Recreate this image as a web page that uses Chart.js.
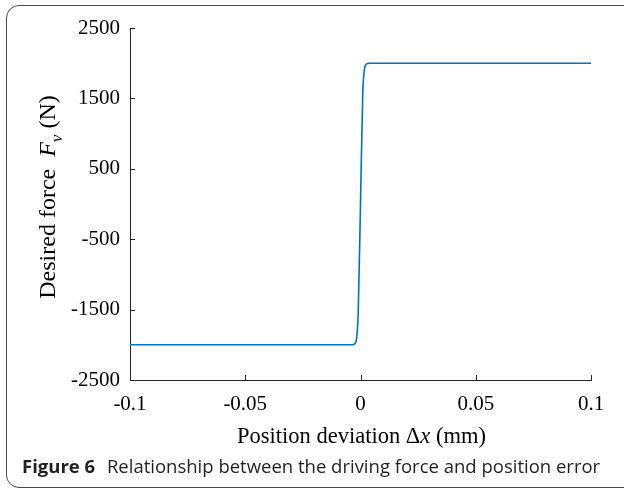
<!DOCTYPE html>
<html>
<head>
<meta charset="utf-8">
<script src="https://cdn.jsdelivr.net/npm/chart.js@4.4.1/dist/chart.umd.min.js"></script>
<style>
  html, body { margin: 0; padding: 0; background: #fff; overflow: hidden; }
  #wrap { position: relative; width: 624px; height: 491px; }
  #frame {
    position: absolute; left: 6px; top: 5px; width: 640px; height: 483px;
    border: 1.3px solid #4a4a4a; border-radius: 13px; box-sizing: border-box;
  }
  #chart { position: absolute; left: 0; top: 0; }
  #caption {
    position: absolute; left: 22px; top: 453px; white-space: nowrap;
    font-family: "Open Sans", "Noto Sans", sans-serif; font-size: 18.5px; color: #231f20;
  }
  #caption b { font-weight: 700; margin-right: 7px; }
</style>
</head>
<body>
<div id="wrap">
  <div id="frame"></div>
  <canvas id="chart" width="624" height="491"></canvas>
  <div id="caption"><b>Figure 6</b> Relationship between the driving force and position error</div>
</div>
<script>
// position deviation (mm) and desired force (N)
const deviation = [-0.1, -0.05, -0.004, -0.003, -0.002, -0.0015, -0.001, 0, 0.001, 0.0015, 0.002, 0.003, 0.004, 0.05, 0.1];
const force = [-2000, -2000, -2000, -1995, -1960, -1850, -1550, 0, 1600, 1850, 1960, 1995, 2000, 2000, 2000];
const xTicks = [-0.1, -0.05, 0, 0.05, 0.1];
const yTicks = [-2500, -1500, -500, 500, 1500, 2500];

const serif = '"Liberation Serif", "Times New Roman", serif';
const axisColor = "#262626";

// inward tick marks + rich axis titles
const axisDecor = {
  id: "axisDecor",
  afterDraw(chart) {
    const ctx = chart.ctx;
    const a = chart.chartArea;
    const xs = chart.scales.x, ys = chart.scales.y;
    ctx.save();
    ctx.strokeStyle = axisColor;
    ctx.lineWidth = 1;
    ctx.beginPath();
    xTicks.forEach(v => {
      const px = Math.round(xs.getPixelForValue(v)) + 0.5;
      ctx.moveTo(px, a.bottom);
      ctx.lineTo(px, a.bottom - 5);
    });
    yTicks.forEach(v => {
      const py = Math.round(ys.getPixelForValue(v)) + 0.5;
      ctx.moveTo(a.left, py);
      ctx.lineTo(a.left + 5, py);
    });
    ctx.stroke();

    ctx.fillStyle = "#000";
    ctx.textBaseline = "alphabetic";

    // x title: Position deviation Δx (mm)
    const xParts = [
      ["Position deviation \u0394", "22.5px " + serif, 0],
      ["x", "italic 22.5px " + serif, 0],
      [" (mm)", "22.5px " + serif, 0]
    ];
    drawParts(ctx, xParts, (a.left + a.right) / 2 + 1, 443);

    // y title: Desired force  F_v (N), rotated
    ctx.translate(55, 197);
    ctx.rotate(-Math.PI / 2);
    const yParts = [
      ["Desired force  ", "24px " + serif, 0],
      ["F", "italic 24px " + serif, 0],
      ["v", "italic 17px " + serif, 7],
      [" (N)", "24px " + serif, 0]
    ];
    drawParts(ctx, yParts, 0, 0);
    ctx.restore();
  }
};

function drawParts(ctx, parts, cx, baseY) {
  let total = 0;
  parts.forEach(p => { ctx.font = p[1]; total += ctx.measureText(p[0]).width; });
  let x = cx - total / 2;
  parts.forEach(p => {
    ctx.font = p[1];
    ctx.fillText(p[0], x, baseY + p[2]);
    x += ctx.measureText(p[0]).width;
  });
}

new Chart(document.getElementById("chart"), {
  type: "scatter",
  data: {
    datasets: [{
      data: deviation.map((x, i) => ({ x: x, y: force[i] })),
      showLine: true,
      borderColor: "#0072BD",
      borderWidth: 1.6,
      pointRadius: 0,
      cubicInterpolationMode: "monotone",
      tension: 0.4
    }]
  },
  options: {
    responsive: false,
    animation: false,
    layout: { padding: { left: 0, top: 28, right: 33, bottom: 0 } },
    plugins: { legend: { display: false }, tooltip: { enabled: false } },
    scales: {
      x: {
        type: "linear",
        min: -0.1, max: 0.1,
        afterBuildTicks: s => { s.ticks = xTicks.map(v => ({ value: v })); },
        afterFit: s => { s.height = 111; },
        grid: { display: true, drawOnChartArea: false, drawTicks: false },
        border: { display: true, color: axisColor, width: 1 },
        ticks: {
          color: "#000", padding: 12,
          font: { family: serif, size: 21 },
          callback: v => String(v)
        }
      },
      y: {
        min: -2500, max: 2500,
        afterBuildTicks: s => { s.ticks = yTicks.map(v => ({ value: v })); },
        afterFit: s => { s.width = 130; },
        grid: { display: true, drawOnChartArea: false, drawTicks: false },
        border: { display: true, color: axisColor, width: 1 },
        ticks: {
          color: "#000", padding: 10,
          font: { family: serif, size: 21 },
          callback: v => String(v)
        }
      }
    }
  },
  plugins: [axisDecor]
});
</script>
</body>
</html>
